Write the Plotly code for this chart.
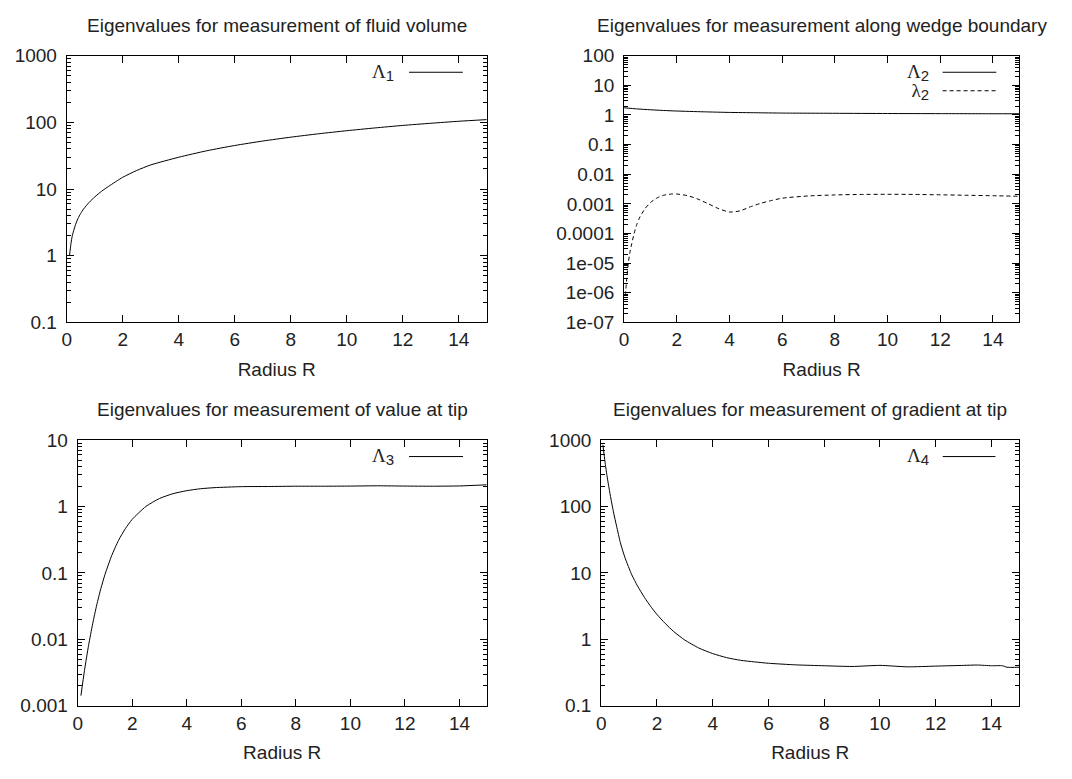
import plotly.graph_objects as go

# Radius R samples and eigenvalue curves for each measurement type
r1 = [0.1, 0.15, 0.2, 0.3, 0.4, 0.5, 0.6, 0.8, 1.0, 1.25, 1.5, 2.0, 2.5, 3.0, 4.0, 5.0, 6.0, 7.0, 8.0, 9.0, 10.0, 11.0, 12.0, 13.0, 14.0, 15.0]
lam1 = [1.0, 1.5, 2.0, 2.8, 3.6, 4.3, 5.0, 6.3, 7.6, 9.3, 11.0, 15.0, 19.0, 23.0, 30.0, 37.5, 45.0, 52.5, 60.0, 67.5, 75.0, 82.5, 90.0, 97.0, 104.0, 110.0]

r2 = [0.0, 0.5, 1.0, 1.5, 2.0, 3.0, 4.0, 5.0, 6.0, 8.0, 10.0, 12.0, 14.0, 15.0]
lam2_big = [1.75, 1.6, 1.5, 1.42, 1.36, 1.28, 1.22, 1.19, 1.16, 1.14, 1.12, 1.11, 1.1, 1.1]
r2s = [0.05, 0.1, 0.16, 0.22, 0.29, 0.38, 0.48, 0.6, 0.8, 1.0, 1.2, 1.5, 1.8, 2.0, 2.4, 2.8, 3.2, 3.6, 4.0, 4.4, 4.8, 5.2, 5.6, 6.0, 7.0, 8.0, 9.0, 10.0, 11.0, 12.0, 13.0, 14.0, 15.0]
lam2_small = [8e-7, 3e-6, 1e-5, 2.3e-5, 4.5e-5, 1e-4, 2e-4, 3.6e-4, 7e-4, 1.1e-3, 1.5e-3, 1.95e-3, 2.15e-3, 2.15e-3, 1.9e-3, 1.45e-3, 1.0e-3, 6.8e-4, 5.3e-4, 5.8e-4, 8e-4, 1.05e-3, 1.3e-3, 1.55e-3, 1.85e-3, 2.0e-3, 2.08e-3, 2.1e-3, 2.08e-3, 2.02e-3, 1.95e-3, 1.88e-3, 1.8e-3]

r3 = [0.12, 0.25, 0.4, 0.55, 0.7, 0.85, 1.0, 1.25, 1.5, 1.75, 2.0, 2.5, 3.0, 3.5, 4.0, 4.5, 5.0, 6.0, 7.0, 8.0, 9.0, 10.0, 11.0, 12.0, 13.0, 14.0, 15.0]
lam3 = [1.42e-3, 3.4e-3, 8.1e-3, 0.0171, 0.033, 0.058, 0.094, 0.183, 0.31, 0.465, 0.64, 1.0, 1.32, 1.56, 1.73, 1.85, 1.92, 1.99, 2.0, 2.02, 2.02, 2.03, 2.05, 2.03, 2.02, 2.04, 2.12]

r4 = [0.06, 0.1, 0.15, 0.2, 0.28, 0.35, 0.45, 0.55, 0.69, 0.85, 1.1, 1.3, 1.55, 1.8, 2.0, 2.3, 2.6, 3.0, 3.5, 4.0, 4.5, 5.0, 5.5, 6.0, 7.0, 8.0, 9.0, 10.0, 11.0, 12.0, 13.0, 13.5, 14.0, 14.4, 14.55, 15.0]
lam4 = [850, 617, 427, 305, 190, 130, 79, 51, 28.3, 17.1, 9.3, 6.4, 4.28, 3.03, 2.37, 1.73, 1.31, 0.975, 0.74, 0.61, 0.53, 0.483, 0.457, 0.436, 0.412, 0.40, 0.39, 0.405, 0.385, 0.395, 0.405, 0.41, 0.40, 0.40, 0.38, 0.38]

x_ticks = [0, 2, 4, 6, 8, 10, 12, 14]

titles = [
    "Eigenvalues for measurement of fluid volume",
    "Eigenvalues for measurement along wedge boundary",
    "Eigenvalues for measurement of value at tip",
    "Eigenvalues for measurement of gradient at tip",
]

y1_ticks = [0.1, 1, 10, 100, 1000]
y1_text = ["0.1", "1", "10", "100", "1000"]
y2_ticks = [1e-7, 1e-6, 1e-5, 1e-4, 1e-3, 1e-2, 0.1, 1, 10, 100]
y2_text = ["1e-07", "1e-06", "1e-05", "0.0001", "0.001", "0.01", "0.1", "1", "10", "100"]
y3_ticks = [0.001, 0.01, 0.1, 1, 10]
y3_text = ["0.001", "0.01", "0.1", "1", "10"]
y4_ticks = [0.1, 1, 10, 100, 1000]
y4_text = ["0.1", "1", "10", "100", "1000"]

FONT = "Liberation Sans, Arial, sans-serif"
FS = 19
INK = "#222"
W, H = 1072, 779

# panel boxes in pixels: left, right, top, bottom
boxes = [(62, 484, 47, 321), (622, 1019, 47, 321), (73, 484, 442, 715), (599, 1019, 442, 715)]

fig = go.Figure()
solid = dict(color="black", width=1, shape="spline", smoothing=0.6)
fig.add_trace(go.Scatter(x=r1, y=lam1, mode="lines", line=solid, xaxis="x", yaxis="y"))
fig.add_trace(go.Scatter(x=r2, y=lam2_big, mode="lines", line=solid, xaxis="x2", yaxis="y2"))
fig.add_trace(go.Scatter(x=r2s, y=lam2_small, mode="lines",
                         line=dict(solid, dash="4px,3px"), xaxis="x2", yaxis="y2"))
fig.add_trace(go.Scatter(x=r3, y=lam3, mode="lines", line=solid, xaxis="x3", yaxis="y3"))
fig.add_trace(go.Scatter(x=r4, y=lam4, mode="lines", line=solid, xaxis="x4", yaxis="y4"))


def xaxis(dom, anchor):
    return dict(
        domain=dom, anchor=anchor, range=[0, 15], tickvals=x_ticks,
        showline=True, linecolor="black", linewidth=1, mirror="allticks",
        ticks="inside", ticklen=7, tickcolor="black", showgrid=False, zeroline=False,
        tickfont=dict(family=FONT, size=FS, color=INK),
        title=dict(text="Radius R", font=dict(family=FONT, size=FS, color=INK), standoff=13),
    )


def yaxis(dom, anchor, rng, tv, tt):
    return dict(
        domain=dom, anchor=anchor, type="log", range=rng, tickvals=tv, ticktext=tt,
        showline=True, linecolor="black", linewidth=1, mirror="allticks",
        ticks="inside", ticklen=7, tickcolor="black", showgrid=False, zeroline=False,
        ticklabelstandoff=5,
        tickfont=dict(family=FONT, size=FS, color=INK),
        minor=dict(ticks="inside", ticklen=4, tickcolor="black", showgrid=False, dtick="D1"),
    )


layout = dict(width=W, height=H, autosize=False, margin=dict(l=0, r=0, t=0, b=0),
              paper_bgcolor="white", plot_bgcolor="white", showlegend=False)
yspecs = [([-1, 3], y1_ticks, y1_text), ([-7, 2], y2_ticks, y2_text),
          ([-3, 1], y3_ticks, y3_text), ([-1, 3], y4_ticks, y4_text)]
annotations = []
shapes = []
for i, ((l, r, t, b), ys) in enumerate(zip(boxes, yspecs), start=1):
    sfx = "" if i == 1 else str(i)
    layout["xaxis" + sfx] = xaxis([l / W, r / W], "y" + sfx)
    layout["yaxis" + sfx] = yaxis([1 - b / H, 1 - t / H], "x" + sfx, *ys)
    annotations.append(dict(
        text=titles[i - 1], x=(l + r) / 2 / W, y=1 - (t - 31) / H, xref="paper", yref="paper",
        xanchor="center", yanchor="middle", showarrow=False,
        font=dict(family=FONT, size=FS, color=INK),
    ))


def key_label(sym, sub):
    return (f"<span style='font-family:Liberation Serif;font-size:19px'>{sym}</span>"
            f"<sub><span style='font-size:15px'>{sub}</span></sub>")


# legend blocks per panel: rows of (symbol, index, dash); the text column is right-aligned,
# the line samples sit to its right, rows 19 px apart (base font 14.6 px * 1.3 line spacing)
legends = [
    ("x", "y", [("Λ", "1", "solid")], 0.784, 0.815, 0.943),
    ("x2", "y2", [("Λ", "2", "solid"), ("λ", "2", "4px,3px")], 0.776, 0.806, 0.942),
    ("x3", "y3", [("Λ", "3", "solid")], 0.779, 0.810, 0.942),
    ("x4", "y4", [("Λ", "4", "solid")], 0.788, 0.817, 0.943),
]
row_px = 19
for (xa, ya, rows, tx, x0, x1), (l, r, t, b) in zip(legends, boxes):
    top_y = 0.938
    step = row_px / (b - t)
    ys = [top_y - k * step for k in range(len(rows))]
    annotations.append(dict(
        text="<br>".join(key_label(s, n) for s, n, _ in rows),
        x=tx, y=sum(ys) / len(ys), xref=xa + " domain", yref=ya + " domain",
        xanchor="right", yanchor="middle", align="right", showarrow=False,
        font=dict(family=FONT, size=14.6, color=INK),
    ))
    for (s, n, dash), yy in zip(rows, ys):
        shapes.append(dict(type="line", x0=x0, x1=x1, y0=yy, y1=yy,
                           xref=xa + " domain", yref=ya + " domain",
                           line=dict(color="black", width=1, dash=dash)))

layout["annotations"] = annotations
layout["shapes"] = shapes
fig.update_layout(**layout)
fig.write_html("out.html")
